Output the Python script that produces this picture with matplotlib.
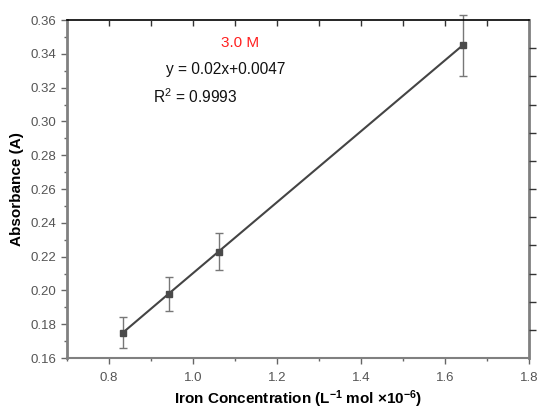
import matplotlib
matplotlib.use("Agg")
import matplotlib.pyplot as plt
import numpy as np
from matplotlib.ticker import MultipleLocator, FixedLocator, NullFormatter

plt.rcParams['font.family'] = ['Liberation Sans', 'DejaVu Sans']
plt.rcParams['mathtext.default'] = 'regular'
plt.rcParams['axes.unicode_minus'] = False

# Calibration data
iron_conc = [0.833, 0.942, 1.061, 1.642]
absorbance = [0.175, 0.198, 0.223, 0.345]
abs_err = [0.009, 0.010, 0.011, 0.018]

x_ticks = [0.8, 1.0, 1.2, 1.4, 1.6, 1.8]
y_ticks = [0.16, 0.18, 0.20, 0.22, 0.24, 0.26, 0.28, 0.30, 0.32, 0.34, 0.36]

fig = plt.figure(figsize=(5.41, 4.09), dpi=100)
ax = fig.add_axes([67 / 541, 1 - 358 / 409, (529 - 67) / 541, (358 - 20) / 409])

eb = ax.errorbar(iron_conc, absorbance, yerr=abs_err, fmt='none', ecolor='#777777',
                 elinewidth=1.0, capsize=3.2, capthick=1.0, zorder=2)
for art in eb.lines[1] + eb.lines[2]:
    art.set_clip_on(False)
ax.plot(iron_conc, absorbance, color='#444444', linewidth=1.5, zorder=3)
ax.plot(iron_conc, absorbance, 's', color='#4a4a4a', markersize=4.6, zorder=4)

ax.set_xlim(0.7, 1.8)
ax.set_ylim(0.16, 0.36)
ax.set_xticks(x_ticks)
ax.set_xticklabels([f"{v:.1f}" for v in x_ticks])
ax.set_yticks(y_ticks)
ax.set_yticklabels([f"{v:.2f}" for v in y_ticks])
ax.xaxis.set_minor_locator(MultipleLocator(0.1))
ax.yaxis.set_minor_locator(MultipleLocator(0.01))

tick_grey = '#555555'
ax.tick_params(axis='both', which='major', direction='out', length=4, width=1,
               color='#666666', labelsize=9.5, labelcolor=tick_grey)
ax.tick_params(axis='both', which='minor', direction='out', length=2.5, width=1,
               color='#666666')
ax.tick_params(axis='x', pad=6)

for side in ('left', 'bottom', 'right'):
    ax.spines[side].set_color('#808080')
ax.spines['left'].set_linewidth(2.0)
ax.spines['bottom'].set_linewidth(1.5)
ax.spines['right'].set_linewidth(2.0)
ax.spines['top'].set_color('black')
ax.spines['top'].set_linewidth(1.2)

# top axis: inward ticks every 0.1
axt = ax.twiny()
axt.set_xlim(ax.get_xlim())
axt.xaxis.set_major_locator(FixedLocator(np.round(np.arange(0.8, 1.75, 0.1), 2)))
axt.xaxis.set_major_formatter(NullFormatter())
axt.tick_params(axis='x', direction='in', length=4, width=1, color='#333333')
for s in axt.spines.values():
    s.set_visible(False)

# right axis: outward ticks dividing the range in 12
axr = ax.twinx()
axr.set_ylim(ax.get_ylim())
axr.yaxis.set_major_locator(FixedLocator(np.linspace(0.16, 0.36, 13)[1:-1]))
axr.yaxis.set_major_formatter(NullFormatter())
axr.tick_params(axis='y', direction='out', length=5, width=1, color='#333333')
for s in axr.spines.values():
    s.set_visible(False)

ax.set_xlabel('Iron Concentration (L$^{-1}$ mol \u00d710$^{-6}$)', fontsize=11,
              fontweight='bold', labelpad=3.5)
ax.set_ylabel('Absorbance (A)', fontsize=11, fontweight='bold', labelpad=5)

ax.text(1.112, 0.3462, '3.0 M', color='#ff2020', fontsize=11, ha='center', va='center')
ax.text(0.936, 0.331, 'y = 0.02x+0.0047', color='#111111', fontsize=11.2,
        ha='left', va='center')
ax.text(0.905, 0.3145, 'R$^2$ = 0.9993', color='#111111', fontsize=11.2,
        ha='left', va='center')

fig.savefig('out.png', dpi=100)
